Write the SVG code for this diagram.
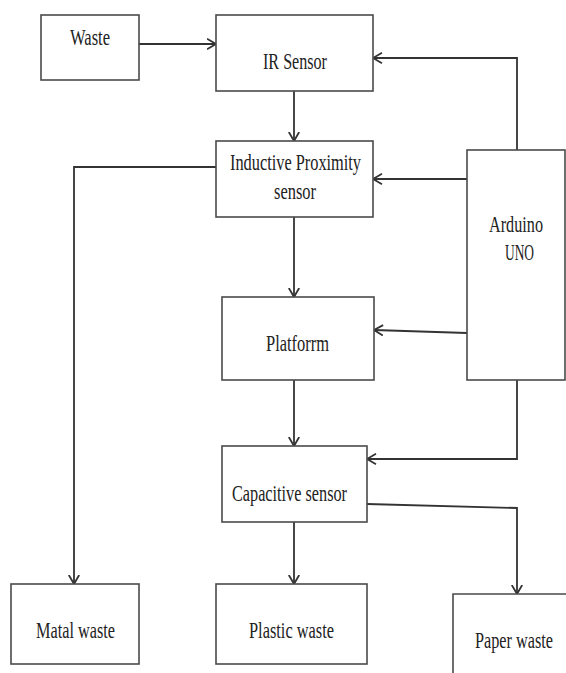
<svg xmlns="http://www.w3.org/2000/svg" width="566" height="673" viewBox="0 0 566 673">
<style>
.box{fill:#fff;stroke:#4a4a4a;stroke-width:1.6}
.lbl{font-family:"Liberation Serif","Times New Roman",serif;font-size:23px;fill:#222}
.con{fill:none;stroke:#333;stroke-width:1.8}
</style>
<defs>
<marker id="arr" viewBox="0 0 10 12" refX="9.5" refY="6" markerWidth="10" markerHeight="12" markerUnits="userSpaceOnUse" orient="auto">
<path d="M0.5,0.8 L9.5,6 L0.5,11.2" fill="none" stroke="#333" stroke-width="1.8"/>
</marker>
</defs>
<rect width="566" height="673" fill="#fff"/>
<g id="connectors" class="con">
<path d="M139,44 L216,44" marker-end="url(#arr)"/>
<path d="M517,150 L517,58 L373,58" marker-end="url(#arr)"/>
<path d="M294,91 L294,141" marker-end="url(#arr)"/>
<path d="M467,179 L373,179" marker-end="url(#arr)"/>
<path d="M216,167 L74,167 L74,584" marker-end="url(#arr)"/>
<path d="M294,217 L294,297" marker-end="url(#arr)"/>
<path d="M467,333 L374,330" marker-end="url(#arr)"/>
<path d="M294,380 L294,446" marker-end="url(#arr)"/>
<path d="M517,380 L517,459 L367,459" marker-end="url(#arr)"/>
<path d="M294,522 L294,584" marker-end="url(#arr)"/>
<path d="M367,504 L517,508 L517,594" marker-end="url(#arr)"/>
</g>
<g id="waste"><rect class="box" x="41" y="15" width="98" height="65"/><text class="lbl" x="70" y="45" textLength="40" lengthAdjust="spacingAndGlyphs">Waste</text></g>
<g id="ir-sensor"><rect class="box" x="216" y="15" width="157" height="76"/><text class="lbl" x="263" y="69" textLength="64" lengthAdjust="spacingAndGlyphs">IR Sensor</text></g>
<g id="inductive"><rect class="box" x="216" y="141" width="157" height="76"/><text class="lbl" x="230" y="170" textLength="131" lengthAdjust="spacingAndGlyphs">Inductive Proximity</text><text class="lbl" x="274" y="199" textLength="42" lengthAdjust="spacingAndGlyphs">sensor</text></g>
<g id="arduino"><rect class="box" x="467" y="150" width="98" height="230"/><text class="lbl" x="489" y="232" textLength="54" lengthAdjust="spacingAndGlyphs">Arduino</text><text class="lbl" x="505" y="260" textLength="29" lengthAdjust="spacingAndGlyphs">UNO</text></g>
<g id="platform"><rect class="box" x="222" y="297" width="152" height="83"/><text class="lbl" x="266" y="351" textLength="63" lengthAdjust="spacingAndGlyphs">Platforrm</text></g>
<g id="capacitive"><rect class="box" x="222" y="446" width="145" height="76"/><text class="lbl" x="232" y="501" textLength="115" lengthAdjust="spacingAndGlyphs">Capacitive sensor</text></g>
<g id="metal-waste"><rect class="box" x="11" y="584" width="128" height="80"/><text class="lbl" x="36" y="638" textLength="79" lengthAdjust="spacingAndGlyphs">Matal waste</text></g>
<g id="plastic-waste"><rect class="box" x="216" y="584" width="151" height="80"/><text class="lbl" x="249" y="638" textLength="85" lengthAdjust="spacingAndGlyphs">Plastic waste</text></g>
<g id="paper-waste"><path d="M453,673 L453,594 L566,594" fill="#fff" stroke="#4a4a4a" stroke-width="1.6"/><text class="lbl" x="475" y="648" textLength="78" lengthAdjust="spacingAndGlyphs">Paper waste</text></g>
</svg>
